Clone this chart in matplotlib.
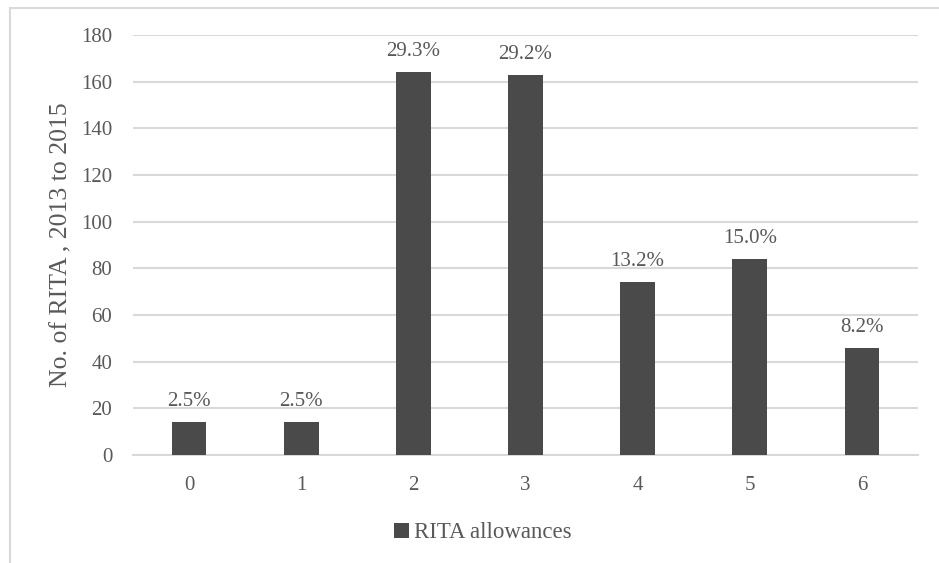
import matplotlib.pyplot as plt
from matplotlib.patches import Rectangle

# Number of RITA allowances per category, with shares of the total
categories = ['0', '1', '2', '3', '4', '5', '6']
counts = [14, 14, 164, 163, 74, 84, 46]
shares = ['2.5%', '2.5%', '29.3%', '29.2%', '13.2%', '15.0%', '8.2%']

plt.rcParams['font.family'] = ['Liberation Serif', 'DejaVu Serif']
text_color = '#595959'
bar_color = '#4a4a4a'
grid_color = '#d9d9d9'

fig = plt.figure(figsize=(9.39, 5.63), dpi=100)
ax = fig.add_axes([0.1416, 0.1918, 0.836, 0.746])

# Chart frame, cut off on the right and bottom
fig.patches.append(Rectangle((10 / 939, -0.05), 1.0, 1 - 8 / 563 + 0.05,
                             transform=fig.transFigure, fill=False,
                             edgecolor='#d9d9d9', linewidth=1.5))

x = range(len(categories))
bars = ax.bar(x, counts, width=0.31, color=bar_color, label='RITA allowances', zorder=3)

for rect, s in zip(bars, shares):
    ax.annotate(s, (rect.get_x() + rect.get_width() / 2, rect.get_height()),
                xytext=(0, 11.5), textcoords='offset points',
                ha='center', va='baseline', fontsize=15, color=text_color)

ax.set_xlim(-0.5, len(categories) - 0.5)
ax.set_ylim(0, 180)
ax.set_yticks(range(0, 181, 20))
ax.set_xticks(list(x))
ax.set_xticklabels(categories)
ax.yaxis.grid(True, color=grid_color, linewidth=1.5, zorder=0)
for side in ['top', 'right', 'left']:
    ax.spines[side].set_visible(False)
ax.spines['bottom'].set_color(grid_color)
ax.spines['bottom'].set_linewidth(1.5)
ax.tick_params(axis='both', length=0, labelsize=15, labelcolor=text_color)
ax.tick_params(axis='x', pad=15)
ax.tick_params(axis='y', pad=15)
ax.set_ylabel('No. of RITA , 2013 to 2015', fontsize=18.5, color=text_color, labelpad=6)

fig.legend(handles=[bars], labels=['RITA allowances'], loc='center',
           bbox_to_anchor=(483 / 939, 1 - 533 / 563), frameon=False,
           fontsize=16.5, labelcolor=text_color, handlelength=0.65,
           handleheight=0.65, handletextpad=0.2)

fig.savefig('out.png', dpi=100)
